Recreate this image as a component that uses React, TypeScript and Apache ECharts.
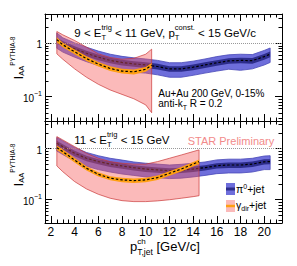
import React, { useEffect, useRef } from 'react';
import * as echarts from 'echarts';

const FF = '"Liberation Sans", Arial, Helvetica, sans-serif';
const X_MIN = 1.5;
const X_MAX = 21.5;
const Y_MIN = 0.035;
const Y_MAX = 3.5;
const yMinorTicks = [0.04, 0.05, 0.06, 0.07, 0.08, 0.09, 0.2, 0.3, 0.4, 0.5, 0.6, 0.7, 0.8, 0.9, 2, 3];

// pi0+jet, x positions (both panels)
const piX = [2.5, 3, 4, 5, 6, 7, 8, 9, 10, 11, 12, 13, 14, 15, 16, 17, 18, 19, 20, 20.5];
// top panel: 9 < ET < 11 GeV
const topPiMid = [1.12, 0.97, 0.78, 0.645, 0.545, 0.475, 0.435, 0.41, 0.39, 0.365, 0.33, 0.33, 0.355, 0.39, 0.43, 0.465, 0.475, 0.47, 0.56, 0.62];
const topPiHi = [1.55, 1.26, 1.01, 0.84, 0.71, 0.62, 0.565, 0.53, 0.505, 0.475, 0.43, 0.43, 0.46, 0.505, 0.56, 0.605, 0.62, 0.61, 0.73, 0.81];
const topPiLo = [0.8, 0.68, 0.545, 0.45, 0.38, 0.33, 0.305, 0.285, 0.275, 0.255, 0.23, 0.23, 0.25, 0.275, 0.3, 0.325, 0.31, 0.33, 0.39, 0.435];
const topPiInHi = [1.25, 1.09, 0.875, 0.72, 0.61, 0.53, 0.487, 0.46, 0.437, 0.41, 0.37, 0.37, 0.4, 0.437, 0.48, 0.52, 0.53, 0.525, 0.625, 0.695];
const topPiInLo = [0.985, 0.855, 0.685, 0.57, 0.48, 0.42, 0.383, 0.36, 0.343, 0.32, 0.29, 0.29, 0.312, 0.343, 0.378, 0.41, 0.418, 0.413, 0.49, 0.545];

const topGX = [2.5, 3, 4, 5, 6, 7, 8, 9, 10, 10.5];
const topGMid = [1.16, 0.93, 0.69, 0.515, 0.405, 0.335, 0.3, 0.29, 0.325, 0.385];
const topGHi = [1.65, 1.43, 1.12, 0.84, 0.63, 0.54, 0.5, 0.52, 0.62, 0.77];
const topGLo = [0.63, 0.5, 0.33, 0.23, 0.17, 0.133, 0.11, 0.091, 0.07, 0.05];
const topGInHi = [1.28, 1.02, 0.76, 0.565, 0.445, 0.37, 0.33, 0.32, 0.357, 0.425];
const topGInLo = [1.04, 0.84, 0.62, 0.465, 0.365, 0.3, 0.27, 0.26, 0.29, 0.345];

// bottom panel: 11 < ET < 15 GeV
const botPiMid = [1.28, 1.1, 0.815, 0.65, 0.56, 0.5, 0.46, 0.425, 0.4, 0.385, 0.37, 0.38, 0.4, 0.425, 0.465, 0.48, 0.48, 0.5, 0.555, 0.56];
const botPiHi = [1.66, 1.43, 1.06, 0.845, 0.73, 0.65, 0.6, 0.55, 0.52, 0.5, 0.48, 0.495, 0.52, 0.55, 0.605, 0.625, 0.625, 0.65, 0.72, 0.73];
const botPiLo = [0.9, 0.77, 0.57, 0.455, 0.39, 0.35, 0.32, 0.3, 0.28, 0.27, 0.26, 0.265, 0.28, 0.3, 0.325, 0.335, 0.335, 0.35, 0.39, 0.39];
const botPiInHi = [1.43, 1.23, 0.915, 0.73, 0.625, 0.56, 0.515, 0.475, 0.45, 0.43, 0.415, 0.425, 0.45, 0.475, 0.52, 0.54, 0.54, 0.56, 0.62, 0.625];
const botPiInLo = [1.13, 0.97, 0.715, 0.57, 0.495, 0.44, 0.405, 0.375, 0.35, 0.34, 0.325, 0.335, 0.35, 0.375, 0.41, 0.42, 0.42, 0.44, 0.49, 0.495];

const botGX = [2.5, 3, 4, 5, 6, 7, 8, 9, 10, 11, 12, 13, 14, 14.5];
const botGMid = [1.05, 0.88, 0.6, 0.415, 0.315, 0.265, 0.245, 0.237, 0.245, 0.272, 0.33, 0.4, 0.5, 0.56];
const botGHi = [1.73, 1.49, 1.1, 0.815, 0.65, 0.56, 0.52, 0.5, 0.5, 0.56, 0.65, 0.755, 0.88, 0.95];
const botGLo = [0.46, 0.355, 0.227, 0.163, 0.128, 0.107, 0.096, 0.092, 0.092, 0.095, 0.1, 0.107, 0.115, 0.12];
const botGInHi = [1.155, 0.97, 0.66, 0.455, 0.345, 0.29, 0.27, 0.26, 0.27, 0.3, 0.363, 0.44, 0.55, 0.615];
const botGInLo = [0.945, 0.79, 0.54, 0.375, 0.285, 0.24, 0.22, 0.213, 0.22, 0.245, 0.297, 0.36, 0.45, 0.505];

const BLUE = '#6e6edb';
const BLUE_EDGE = '#4848b8';
const NAVY = '#2c2c8a';
const PINK = 'rgba(245,90,90,0.42)';
const PINK_EDGE = 'rgba(200,50,50,0.85)';
const ORANGE = '#ffa012';

let _ctx: CanvasRenderingContext2D | null = null;
function tw(s: string, size: number) {
  if (!_ctx) _ctx = document.createElement('canvas').getContext('2d');
  _ctx!.font = `${size}px ${FF}`;
  return _ctx!.measureText(s).width;
}

type Part = { t?: string; sub?: string; sup?: string };
type TOpts = { size: number; subSize?: number; supSize?: number; subDy?: number; supDy?: number; fill?: string };

function scriptText(parts: Part[], x0: number, base: number, o: TOpts) {
  const fill = o.fill || '#000';
  const subSize = o.subSize || o.size * 0.65;
  const supSize = o.supSize || o.size * 0.65;
  const subDy = o.subDy ?? o.size * 0.25;
  const supDy = o.supDy ?? -o.size * 0.6;
  const els: any[] = [];
  const mk = (text: string, xx: number, bl: number, fs: number) => {
    const lead = (text.match(/^\s*/) as RegExpMatchArray)[0];
    const body = text.slice(lead.length).replace(/\s+$/, '');
    els.push({
      type: 'text',
      x: xx + (lead ? tw(lead, fs) : 0),
      y: bl - 0.35 * fs,
      silent: true,
      z: 100,
      style: { text: body, fontSize: fs, fontFamily: FF, fill, align: 'left', verticalAlign: 'middle' },
    });
  };
  let x = x0;
  for (const p of parts) {
    if (p.t) {
      mk(p.t, x, base, o.size);
      x += tw(p.t, o.size);
    }
    let w = 0;
    if (p.sub) {
      mk(p.sub, x, base + subDy, subSize);
      w = Math.max(w, tw(p.sub, subSize));
    }
    if (p.sup) {
      mk(p.sup, x, base + supDy, supSize);
      w = Math.max(w, tw(p.sup, supSize));
    }
    x += w;
  }
  return els;
}

function band(xs: number[], lo: number[], hi: number[], grid: number, fill: string, stroke: string | null, z: number) {
  return {
    type: 'custom',
    xAxisIndex: grid * 2,
    yAxisIndex: grid * 2,
    silent: true,
    z,
    data: xs.map((x, i) => [x, lo[i], hi[i]]),
    encode: { x: 0, y: [1, 2] },
    renderItem: (params: any, api: any) => {
      if (params.dataIndex !== 0) return { type: 'group', children: [] };
      const up = xs.map((x, i) => api.coord([x, hi[i]]));
      const dn = xs.map((x, i) => api.coord([x, lo[i]])).reverse();
      return {
        type: 'polygon',
        shape: { points: up.concat(dn) },
        style: { fill, stroke: stroke || 'none', lineWidth: stroke ? 0.8 : 0 },
      };
    },
  };
}

function centerLine(xs: number[], c: number[], grid: number, z: number) {
  return {
    type: 'line',
    xAxisIndex: grid * 2,
    yAxisIndex: grid * 2,
    silent: true,
    z,
    symbol: 'none',
    showSymbol: false,
    data: xs.map((x, i) => [x, c[i]]),
    lineStyle: { color: '#000', width: 1.2, type: [2.5, 2] },
  };
}

function unityLine(grid: number) {
  return {
    type: 'line',
    xAxisIndex: grid * 2,
    yAxisIndex: grid * 2,
    silent: true,
    z: 1,
    symbol: 'none',
    data: [[X_MIN, 1]],
    markLine: {
      silent: true,
      symbol: ['none', 'none'],
      label: { show: false },
      lineStyle: { type: 'dotted', color: '#999', width: 1 },
      data: [{ yAxis: 1 }],
    },
  };
}

function yMinor(grid: number) {
  return {
    type: 'custom',
    xAxisIndex: grid * 2,
    yAxisIndex: grid * 2,
    silent: true,
    z: 20,
    data: yMinorTicks.map((v) => [X_MIN, v]),
    encode: { x: 0, y: 1 },
    renderItem: (params: any, api: any) => {
      const p = api.coord([X_MIN, api.value(1)]);
      const q = api.coord([X_MAX, api.value(1)]);
      const y = Math.round(p[1]) + 0.5;
      return {
        type: 'group',
        children: [
          { type: 'line', shape: { x1: p[0], y1: y, x2: p[0] + 3.5, y2: y }, style: { stroke: '#000', lineWidth: 1 } },
          { type: 'line', shape: { x1: q[0] - 3.5, y1: y, x2: q[0], y2: y }, style: { stroke: '#000', lineWidth: 1 } },
        ],
      };
    },
  };
}

function xAx(grid: number, pos: string, labels: boolean) {
  return {
    type: 'value',
    gridIndex: grid,
    position: pos,
    min: X_MIN,
    max: X_MAX,
    splitNumber: 10,
    axisLine: { show: true, onZero: false, lineStyle: { color: '#000', width: 1 } },
    axisTick: { show: true, inside: true, length: 7, lineStyle: { color: '#000', width: 1 } },
    minorTick: { show: true, splitNumber: 4, length: 3.5, lineStyle: { color: '#000', width: 1 } },
    splitLine: { show: false },
    minorSplitLine: { show: false },
    axisLabel: labels
      ? { show: true, fontSize: 12, fontFamily: FF, color: '#000', margin: 3, showMinLabel: false, showMaxLabel: false }
      : { show: false },
  };
}

function yAx(grid: number, pos: string, labels: boolean, titleShift: number) {
  return {
    type: 'log',
    logBase: 10,
    gridIndex: grid,
    position: pos,
    min: Y_MIN,
    max: Y_MAX,
    name: labels ? '{i|I}{a|AA}{p|PYTHIA-8}' : '',
    nameLocation: 'middle',
    nameRotate: 90,
    nameGap: 20,
    nameMoveOverlap: false,
    nameTextStyle: {
      rich: {
        i: { fontSize: 13, fontFamily: FF, color: '#000', lineHeight: 16, verticalAlign: 'bottom', padding: [0, 0, 0, titleShift] },
        a: { fontSize: 7.5, fontFamily: FF, color: '#000', lineHeight: 12, verticalAlign: 'bottom' },
        p: { fontSize: 6.5, fontFamily: FF, color: '#000', lineHeight: 6, verticalAlign: 'top' },
      },
    },
    axisLine: { show: true, onZero: false, lineStyle: { color: '#000', width: 1 } },
    axisTick: { show: true, inside: true, length: 7, lineStyle: { color: '#000', width: 1 } },
    minorTick: { show: false },
    splitLine: { show: false },
    axisLabel: labels
      ? {
          show: true,
          margin: 3,
          showMinLabel: false,
          showMaxLabel: false,
          formatter: (v: number) => (Math.abs(v - 1) < 1e-6 ? '{b|1}' : Math.abs(v - 0.1) < 1e-7 ? '{b|10}{s|\u22121}' : ''),
          rich: {
            b: { fontSize: 10, fontFamily: FF, color: '#000', lineHeight: 13, verticalAlign: 'bottom' },
            s: { fontSize: 7, fontFamily: FF, color: '#000', lineHeight: 8, verticalAlign: 'top' },
          },
        }
      : { show: false },
  };
}

export default function App() {
  const ref = useRef<HTMLDivElement>(null);
  useEffect(() => {
    if (!ref.current) return;
    const chart = echarts.init(ref.current, null, { renderer: 'svg' });

    const graphics: any[] = [
      ...scriptText([{ t: '9 < E', sub: 'T', sup: 'trig' }, { t: ' < 11 GeV, p', sub: 'T', sup: 'const.' }, { t: ' < 15 GeV/c' }], 74.3, 37.5, { size: 11.5, subSize: 7.5, supSize: 7.5, subDy: 3, supDy: -7 }),
      ...scriptText([{ t: 'Au+Au 200 GeV, 0-15%' }], 158.3, 97, { size: 10 }),
      ...scriptText([{ t: 'anti-k', sub: 'T' }, { t: ' R = 0.2' }], 158.3, 107, { size: 10, subSize: 7, subDy: 2.5 }),
      ...scriptText([{ t: '11 < E', sub: 'T', sup: 'trig' }, { t: ' < 15 GeV' }], 74.3, 144, { size: 11.5, subSize: 7.5, supSize: 7.5, subDy: 3, supDy: -7 }),
      ...scriptText([{ t: 'STAR Preliminary' }], 187.7, 145, { size: 11, fill: '#f28a8a' }),
      ...scriptText([{ t: 'p', sub: 'T,jet', sup: 'ch' }, { t: ' [GeV/c]' }], 130, 251, { size: 13, subSize: 8.5, supSize: 8, subDy: 4, supDy: -6.3 }),
      // legend
      { type: 'rect', silent: true, z: 100, shape: { x: 226, y: 183, width: 9, height: 12 }, style: { fill: BLUE } },
      { type: 'line', silent: true, z: 101, shape: { x1: 226, y1: 189, x2: 235, y2: 189 }, style: { stroke: NAVY, lineWidth: 3 } },
      { type: 'rect', silent: true, z: 100, shape: { x: 226, y: 200, width: 9, height: 12 }, style: { fill: PINK } },
      { type: 'line', silent: true, z: 101, shape: { x1: 226, y1: 206, x2: 235, y2: 206 }, style: { stroke: ORANGE, lineWidth: 2.5 } },
      ...scriptText([{ t: '\u03c0', sup: '0' }, { t: '+jet' }], 236, 193, { size: 10.5, supSize: 7, supDy: -4.5 }),
      ...scriptText([{ t: '\u03b3', sub: 'dir' }, { t: '+jet' }], 236, 208.5, { size: 10.5, subSize: 7, subDy: 2.5 }),
    ];

    const series: any[] = [];
    const panels = [
      { pi: [topPiMid, topPiLo, topPiHi, topPiInLo, topPiInHi], gx: topGX, g: [topGMid, topGLo, topGHi, topGInLo, topGInHi] },
      { pi: [botPiMid, botPiLo, botPiHi, botPiInLo, botPiInHi], gx: botGX, g: [botGMid, botGLo, botGHi, botGInLo, botGInHi] },
    ];
    panels.forEach((p, grid) => {
      series.push(unityLine(grid));
      series.push(band(piX, p.pi[1], p.pi[2], grid, BLUE, BLUE_EDGE, 3));
      series.push(band(piX, p.pi[3], p.pi[4], grid, NAVY, null, 4));
      series.push(centerLine(piX, p.pi[0], grid, 5));
      series.push(band(p.gx, p.g[1], p.g[2], grid, PINK, PINK_EDGE, 6));
      series.push(band(p.gx, p.g[3], p.g[4], grid, ORANGE, null, 7));
      series.push(centerLine(p.gx, p.g[0], grid, 8));
      series.push(yMinor(grid));
    });

    chart.setOption({
      animation: false,
      backgroundColor: '#fff',
      grid: [
        { left: 45, top: 14, width: 237, height: 107, outerBoundsMode: 'none' },
        { left: 45, top: 121, width: 237, height: 102, outerBoundsMode: 'none' },
      ],
      xAxis: [xAx(0, 'bottom', false), xAx(0, 'top', false), xAx(1, 'bottom', true), xAx(1, 'top', false)],
      yAxis: [yAx(0, 'left', true, 19), yAx(0, 'right', false, 0), yAx(1, 'left', true, 14), yAx(1, 'right', false, 0)],
      series,
      graphic: graphics,
    });
    return () => chart.dispose();
  }, []);
  return <div ref={ref} style={{ position: 'absolute', left: 0, top: 0, width: 297, height: 266 }} />;
}
